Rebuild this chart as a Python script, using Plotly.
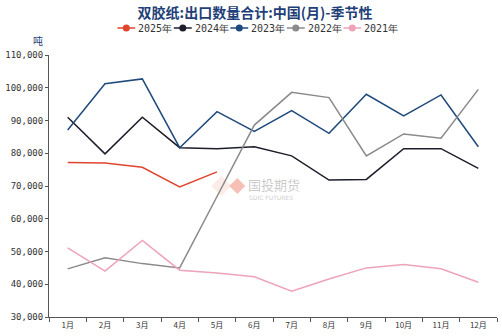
import plotly.graph_objects as go

months = ["1月", "2月", "3月", "4月", "5月", "6月", "7月", "8月", "9月", "10月", "11月", "12月"]

y2025 = [77200, 77000, 75700, 69700, 74300]
y2024 = [91000, 79800, 91000, 81700, 81400, 82000, 79200, 71800, 72000, 81400, 81400, 75400]
y2023 = [87100, 101200, 102700, 81700, 92700, 86700, 93000, 86100, 98000, 91400, 97800, 82000]
y2022 = [44700, 48100, 46300, 45000, 66800, 88600, 98600, 97000, 79200, 85900, 84600, 99500]
y2021 = [51100, 44000, 53400, 44300, 43400, 42300, 37900, 41600, 45000, 46000, 44700, 40600]

series = [
    ("2025年", y2025, "#e0452e"),
    ("2024年", y2024, "#1d1d2b"),
    ("2023年", y2023, "#1f4a7c"),
    ("2022年", y2022, "#8a8a8a"),
    ("2021年", y2021, "#eea3b8"),
]

W, H = 502, 336
ML, MR, MT, MB = 45, 5, 55, 19
PW, PH = W - ML - MR, H - MT - MB


def px_x(px):
    return (px - ML) / PW


def px_y(py):
    return (H - MB - py) / PH


fig = go.Figure()
for name, ys, color in series:
    fig.add_trace(go.Scatter(
        x=months[:len(ys)], y=ys, mode="lines", name=name,
        line=dict(color=color, width=1.5), showlegend=False,
    ))

fig.update_layout(
    width=W, height=H,
    margin=dict(l=ML, r=MR, t=MT, b=MB),
    paper_bgcolor="white", plot_bgcolor="white",
    showlegend=False,
    title=dict(
        text="<b>双胶纸:出口数量合计:中国(月)-季节性</b>",
        x=0.508, xanchor="center", y=0.962, yanchor="middle",
        font=dict(family="Noto Sans CJK SC", size=14, color="#1f3f78"),
    ),
    xaxis=dict(
        type="category", categoryorder="array", categoryarray=months,
        range=[-0.5, 11.5], showgrid=False, showline=True, linecolor="#555",
        linewidth=1, ticks="outside", ticklen=4, tickcolor="#555",
        tickson="boundaries",
        tickfont=dict(family="Noto Sans CJK SC", size=8, color="#333"),
    ),
    yaxis=dict(
        range=[30000, 110000], dtick=10000, tickformat=",d",
        showgrid=False, showline=True, linecolor="#555", linewidth=1,
        ticks="outside", ticklen=3, tickcolor="#555",
        tickfont=dict(family="DejaVu Sans Mono", size=9, color="#333"),
        zeroline=False,
    ),
)

# manual legend (line + dot + text)
legend_y = 28
marker_x0 = 123
pitch = 57
for i, (name, ys, color) in enumerate(series):
    mx = marker_x0 + i * pitch
    fig.add_shape(type="line", xref="paper", yref="paper",
                  x0=px_x(mx - 9), x1=px_x(mx + 9), y0=px_y(legend_y), y1=px_y(legend_y),
                  line=dict(color=color, width=1.5))
    fig.add_shape(type="circle", xref="paper", yref="paper",
                  xsizemode="pixel", ysizemode="pixel",
                  xanchor=px_x(mx), yanchor=px_y(legend_y),
                  x0=-3.5, x1=3.5, y0=-3.5, y1=3.5,
                  fillcolor=color, line=dict(color=color, width=0))
    fig.add_annotation(x=px_x(mx + 10), y=px_y(legend_y), xref="paper", yref="paper",
                       xanchor="left", yanchor="middle", text=name, showarrow=False,
                       font=dict(family="DejaVu Sans Mono", size=10, color="#333"))

fig.add_annotation(
    x=-0.01, y=1.055, xref="paper", yref="paper", xanchor="right", yanchor="middle",
    text="吨", showarrow=False,
    font=dict(family="Noto Sans CJK SC", size=10, color="#1f3f78"),
)

# watermark diamonds (shapes) + text
def diamond(cx, cy, r, fill):
    fig.add_shape(type="path", xref="paper", yref="paper",
                  xsizemode="pixel", ysizemode="pixel",
                  xanchor=px_x(cx), yanchor=px_y(cy),
                  path=f"M{-r},0 L0,{r} L{r},0 L0,{-r} Z",
                  fillcolor=fill, line=dict(width=0), layer="below")


diamond(219, 186, 10, "rgba(240,150,130,0.18)")
diamond(235, 186, 8, "rgba(240,150,130,0.6)")
fig.add_annotation(
    x=px_x(244), y=0.505, xref="paper", yref="paper", xanchor="left", yanchor="middle",
    text="国投期货", showarrow=False,
    font=dict(family="Noto Sans CJK SC", size=13, color="rgba(150,150,150,0.5)"),
)
fig.add_annotation(
    x=px_x(245), y=0.457, xref="paper", yref="paper", xanchor="left", yanchor="middle",
    text="SDIC FUTURES", showarrow=False,
    font=dict(family="DejaVu Sans", size=6, color="rgba(150,150,150,0.5)"),
)

fig.write_html("out.html")
